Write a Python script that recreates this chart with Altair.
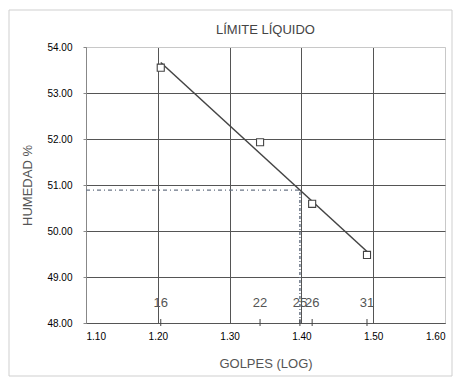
import altair as alt
import pandas as pd

# data
golpes = [16, 22, 26, 31]
humedad = [53.55, 51.93, 50.59, 49.48]
label_golpes = [16, 22, 25, 26, 31]
ll_golpes = 25
ll_humedad = 50.89
x_ticks = [1.10, 1.20, 1.30, 1.40, 1.50, 1.60]
y_ticks = [48, 49, 50, 51, 52, 53, 54]

FONT = "Liberation Sans"
pts = pd.DataFrame({"golpes": golpes, "humedad": humedad})
lbl = pd.DataFrame({"golpes": label_golpes})
ll = pd.DataFrame({"golpes": [ll_golpes], "humedad": [ll_humedad], "x0": [x_ticks[0]], "y0": [y_ticks[0]]})

edge = "datum.value == 1.6 || datum.value == 54"
xs = alt.Scale(domain=[1.10, 1.60], nice=False, zero=False)
ys = alt.Scale(domain=[48, 54], nice=False, zero=False)

xaxis = alt.Axis(values=x_ticks, format=".2f", title="GOLPES (LOG)", grid=True,
                 gridColor=alt.condition(edge, alt.value("#c8c8c8"), alt.value("#555555")),
                 domainColor="#555", ticks=False, labelPadding=8, titlePadding=16,
                 titleFontWeight="normal", titleFont=FONT, titleFontSize=13, titleColor="#555")
yaxis = alt.Axis(values=y_ticks, format=".2f", title="HUMEDAD %", grid=True,
                 gridColor=alt.condition(edge, alt.value("#c8c8c8"), alt.value("#555555")),
                 domainColor="#888", ticks=True, tickSize=3, tickColor="#888",
                 labelPadding=11, titlePadding=12,
                 titleFontWeight="normal", titleFont=FONT, titleFontSize=13, titleColor="#555")

logx = alt.Chart(pts).transform_calculate(lx="log(datum.golpes)/LN10")

frame = alt.Chart(pd.DataFrame({"a": [0]})).mark_rect(fill=None, stroke="#cfcfcf", strokeWidth=1).encode(
    x=alt.value(-77), x2=alt.value(366), y=alt.value(-37), y2=alt.value(329))

points = logx.mark_point(shape="square", filled=False, size=50, stroke="#444", strokeWidth=1.1, fill="white", fillOpacity=1).encode(
    x=alt.X("lx:Q", scale=xs, axis=xaxis),
    y=alt.Y("humedad:Q", scale=ys, axis=yaxis),
)

reg = logx.transform_regression("lx", "humedad").mark_line(color="#444", strokeWidth=1.5).encode(
    x=alt.X("lx:Q", scale=xs), y=alt.Y("humedad:Q", scale=ys))

llbase = alt.Chart(ll).transform_calculate(lx="log(datum.golpes)/LN10")
hline = llbase.mark_rule(color="#6b7686", strokeWidth=1.2, strokeDash=[4, 3, 1, 3]).encode(
    x=alt.X("x0:Q", scale=xs), x2="lx:Q", y=alt.Y("humedad:Q", scale=ys))
vline = llbase.mark_rule(color="#6b7686", strokeWidth=1.5, strokeDash=[3, 2, 1, 2]).encode(
    x=alt.X("lx:Q", scale=xs), y=alt.Y("y0:Q", scale=ys), y2="humedad:Q")

lblbase = alt.Chart(lbl).transform_calculate(lx="log(datum.golpes)/LN10", yb="48", yl="48.43")
ticks = lblbase.mark_rule(color="#444", strokeWidth=1, yOffset=-4, y2Offset=3).encode(
    x=alt.X("lx:Q", scale=xs), y=alt.Y("yb:Q", scale=ys), y2="yb:Q")
texts = lblbase.mark_text(font=FONT, fontSize=13, color="#555", baseline="middle", align="center").encode(
    x=alt.X("lx:Q", scale=xs), y=alt.Y("yl:Q", scale=ys), text="golpes:Q")

chart = alt.layer(frame, hline, vline, reg, ticks, texts, points).properties(
    width=359, height=276,
    title=alt.TitleParams("LÍMITE LÍQUIDO", font=FONT, fontSize=13, fontWeight="normal", color="#444", offset=-27),
    autosize=alt.AutoSizeParams(type="none"),
    padding={"left": 78, "top": 39, "right": 10, "bottom": 55},
).configure_view(stroke="#c8c8c8").configure_axis(
    labelFont=FONT, labelFontSize=11, labelColor="#555", gridWidth=1,
).configure(background="white")

chart.save("out.html", embed_options={"renderer": "svg", "actions": False})
